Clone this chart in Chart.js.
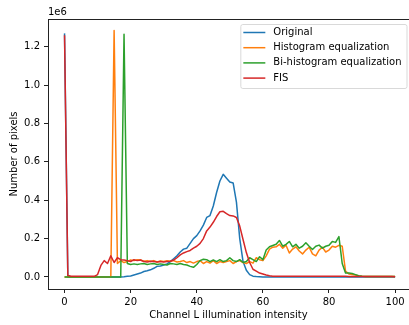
<!DOCTYPE html>
<html>
<head>
<meta charset="utf-8">
<script src="https://cdn.jsdelivr.net/npm/chart.js@4"></script>
<style>
  html, body { margin: 0; padding: 0; background: #fff; overflow: hidden; }
  #wrap { width: 409px; height: 325px; }
</style>
</head>
<body>
<div id="wrap"><canvas id="grafico" width="409" height="325"></canvas></div>
<script>
// ====== DADOS ======
// valores em milhões de pixels (eixo mostra "1e6")
const intensidade = Array.from({ length: 101 }, (_, i) => i);

const original = [
  1.27, 0, 0, 0, 0, 0, 0, 0, 0, 0,
  0, 0, 0, 0, 0, 0, 0, 0, 0.001, 0.003,
  0.005, 0.01, 0.015, 0.02, 0.028, 0.032, 0.037, 0.045, 0.055, 0.057,
  0.062, 0.068, 0.08, 0.095, 0.11, 0.13, 0.145, 0.15, 0.175, 0.2,
  0.215, 0.24, 0.27, 0.31, 0.32, 0.37, 0.44, 0.5, 0.535, 0.515,
  0.495, 0.49, 0.39, 0.2, 0.08, 0.035, 0.012, 0.004, 0.002, 0.001,
  0, 0, 0, 0, 0, 0, 0, 0, 0, 0,
  0, 0, 0, 0, 0, 0, 0, 0, 0, 0,
  0, 0, 0, 0, 0, 0, 0, 0, 0, 0,
  0, 0, 0, 0, 0, 0, 0, 0, 0, 0,
  0
];

const histEq = [
  0, 0, 0, 0, 0, 0, 0, 0, 0, 0,
  0, 0, 0, 0, 0, 1.285, 0.07, 0.085, 0.075, 0.08,
  0.088, 0.085, 0.09, 0.088, 0.082, 0.085, 0.08, 0.085, 0.078, 0.083,
  0.08, 0.085, 0.082, 0.085, 0.078, 0.08, 0.085, 0.075, 0.08, 0.072,
  0.08, 0.085, 0.07, 0.08, 0.072, 0.085, 0.07, 0.08, 0.075, 0.08,
  0.085, 0.07, 0.08, 0.085, 0.075, 0.07, 0.08, 0.072, 0.1, 0.09,
  0.085, 0.11, 0.145, 0.155, 0.157, 0.17, 0.15, 0.165, 0.125, 0.145,
  0.157, 0.135, 0.12, 0.14, 0.155, 0.12, 0.11, 0.14, 0.155, 0.13,
  0.14, 0.16, 0.155, 0.165, 0.16, 0.03, 0.015, 0.012, 0.01, 0.005,
  0.003, 0.002, 0.002, 0.002, 0.002, 0.002, 0.002, 0.002, 0.002, 0.002,
  0.002
];

const biHistEq = [
  0, 0, 0, 0, 0, 0, 0, 0, 0, 0,
  0, 0, 0, 0, 0, 0, 0, 0, 1.265, 0.07,
  0.065, 0.068, 0.065, 0.068, 0.07, 0.065, 0.068, 0.07, 0.065, 0.068,
  0.065, 0.062, 0.07, 0.068, 0.065, 0.07, 0.065, 0.062, 0.055, 0.05,
  0.065, 0.085, 0.092, 0.09, 0.08, 0.088, 0.08, 0.09, 0.08, 0.085,
  0.1, 0.085, 0.08, 0.09, 0.075, 0.08, 0.1, 0.09, 0.08, 0.105,
  0.09, 0.14, 0.157, 0.164, 0.17, 0.19, 0.16, 0.17, 0.185, 0.157,
  0.17, 0.15, 0.16, 0.178, 0.16, 0.143, 0.16, 0.166, 0.15, 0.16,
  0.165, 0.185, 0.18, 0.21, 0.07, 0.02, 0.02, 0.018, 0.012, 0.006,
  0.003, 0.002, 0.002, 0.002, 0.002, 0.002, 0.002, 0.002, 0.002, 0.002,
  0.002
];

const fis = [
  1.26, 0.008, 0.003, 0.003, 0.003, 0.003, 0.003, 0.003, 0.003, 0.003,
  0.012, 0.06, 0.085, 0.07, 0.11, 0.075, 0.1, 0.09, 0.088, 0.085,
  0.08, 0.09, 0.085, 0.088, 0.08, 0.078, 0.082, 0.08, 0.078, 0.08,
  0.078, 0.08, 0.082, 0.088, 0.1, 0.115, 0.125, 0.132, 0.138, 0.15,
  0.16, 0.175, 0.2, 0.24, 0.26, 0.285, 0.315, 0.34, 0.342, 0.33,
  0.32, 0.318, 0.31, 0.265, 0.195, 0.127, 0.075, 0.04, 0.03, 0.02,
  0.015, 0.01, 0.006, 0.004, 0.004, 0.004, 0.004, 0.004, 0.004, 0.004,
  0.003, 0.003, 0.003, 0.003, 0.003, 0.003, 0.003, 0.003, 0.003, 0.003,
  0.003, 0.003, 0.003, 0.003, 0.003, 0.003, 0.002, 0.002, 0.002, 0.002,
  0.002, 0.002, 0.002, 0.002, 0.002, 0.002, 0.002, 0.002, 0.002, 0.002,
  0.001
];

const nomes = ['Original', 'Histogram equalization', 'Bi-histogram equalization', 'FIS'];
const cores = ['#1f77b4', '#ff7f0e', '#2ca02c', '#d62728'];
const ticksX = [0, 20, 40, 60, 80, 100];
const ticksY = [0, 0.2, 0.4, 0.6, 0.8, 1.0, 1.2];

// ====== FUNÇÕES ======
const fonte = { family: 'DejaVu Sans', size: 10 };
const series = [original, histEq, biHistEq, fis];

function pontos(valores) {
  return valores.map((v, i) => ({ x: intensidade[i], y: v }));
}

// moldura (spines) + "1e6" + legenda estilo matplotlib
const extras = {
  id: 'extras',
  afterDraw(chart) {
    const { ctx, chartArea: a } = chart;
    ctx.save();
    ctx.strokeStyle = '#222';
    ctx.lineWidth = 1;
    ctx.strokeRect(Math.round(a.left) + 0.5, Math.round(a.top) + 0.5, Math.round(a.right - a.left), Math.round(a.bottom - a.top));

    ctx.font = '10px "DejaVu Sans"';
    ctx.fillStyle = '#000';
    ctx.textBaseline = 'middle';
    ctx.textAlign = 'left';
    ctx.fillText('1e6', a.left, 12);

    // legenda
    const larguraTexto = Math.max(...nomes.map(n => ctx.measureText(n).width));
    const w = 3 + 22 + 8 + larguraTexto + 5;
    const h = 64;
    const x0 = a.right - 2.5 - w;
    const y0 = a.top + 5;
    ctx.beginPath();
    ctx.roundRect(x0 + 0.5, y0 + 0.5, w, h, 2);
    ctx.fillStyle = 'rgba(255,255,255,0.8)';
    ctx.fill();
    ctx.strokeStyle = '#d9d9d9';
    ctx.stroke();
    nomes.forEach((n, i) => {
      const y = y0 + 8.5 + i * 15.2;
      ctx.beginPath();
      ctx.moveTo(x0 + 3, y);
      ctx.lineTo(x0 + 25, y);
      ctx.strokeStyle = cores[i];
      ctx.lineWidth = 1.5;
      ctx.stroke();
      ctx.fillStyle = '#000';
      ctx.fillText(n, x0 + 33, y);
    });
    ctx.restore();
  }
};

// ====== GRÁFICO ======
const ctx = document.getElementById('grafico').getContext('2d');
new Chart(ctx, {
  type: 'line',
  data: {
    datasets: series.map((s, i) => ({
      label: nomes[i],
      data: pontos(s),
      borderColor: cores[i],
      backgroundColor: cores[i],
      borderWidth: 1.5,
      pointRadius: 0,
      tension: 0,
      borderJoinStyle: 'round',
      order: series.length - i
    }))
  },
  options: {
    responsive: false,
    animation: false,
    layout: { padding: { top: 19, right: 0, bottom: 0, left: 0 } },
    plugins: { legend: { display: false }, tooltip: { enabled: false } },
    scales: {
      x: {
        type: 'linear',
        min: -5,
        max: 104.2,
        afterBuildTicks: s => { s.ticks = ticksX.map(v => ({ value: v })); },
        afterFit: s => { s.height = 36; },
        grid: { drawOnChartArea: false, tickLength: 4, color: '#222', tickColor: '#222' },
        border: { display: false },
        ticks: { font: fonte, color: '#000', padding: 3, maxRotation: 0, callback: v => String(v) },
        title: { display: true, text: 'Channel L illumination intensity', font: fonte, color: '#000', padding: { top: 0, bottom: 4 } }
      },
      y: {
        type: 'linear',
        min: -0.063,
        max: 1.345,
        afterBuildTicks: s => { s.ticks = ticksY.map(v => ({ value: v })); },
        afterFit: s => { s.width = 48; },
        grid: { drawOnChartArea: false, tickLength: 4, color: '#222', tickColor: '#222' },
        border: { display: false },
        ticks: { font: fonte, color: '#000', padding: 4, callback: v => v.toFixed(1) },
        title: { display: true, text: 'Number of pixels', font: fonte, color: '#000', padding: { top: 8, bottom: 0 } }
      }
    }
  },
  plugins: [extras]
});
</script>
</body>
</html>
